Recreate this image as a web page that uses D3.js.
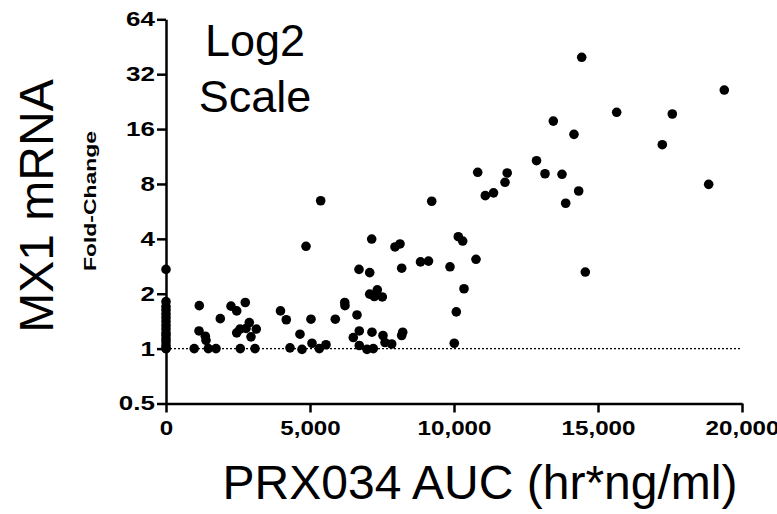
<!DOCTYPE html>
<html>
<head>
<meta charset="utf-8">
<script src="https://cdn.jsdelivr.net/npm/d3@7"></script>
<style>
  html, body { margin: 0; padding: 0; background: #fff; }
  svg { display: block; font-family: "Liberation Sans", Arial, sans-serif; }
</style>
</head>
<body>
<svg id="chart" width="777" height="514"></svg>
<script>
// PRX034 AUC (hr*ng/ml)
const aucValues = [
  0,0,0,0,0,0,0,0,0,0,0,0,0,0,0,0,
  980,1156,1146,1365,1389,1469,1736,1885,2257,2455,2753,2892,2569,2455,2778,3135,2951,2580,3090,
  3975,4177,4305,4652,4722,4861,5034,5069,5323,5555,5371,5878,6205,6215,6632,6503,6711,6701,6711,6979,7198,
  7152,7073,7142,7073,7337,7233,7510,7534,7604,7837,7951,8125,8184,8219,8184,
  8837,9115,9226,9861,10010,10080,10149,10302,10347,10764,10823,11087,11372,11771,11847,
  12865,13160,13448,13750,13878,14166,14329,14434,14559,15649,17233,17580,18843,19385
];
// MX1 mRNA fold-change
const foldChange = [
  1.0,1.0,1.04,1.09,1.13,1.18,1.22,1.28,1.34,1.41,1.48,1.55,1.63,1.7,1.81,2.72,
  1.0,1.72,1.25,1.17,1.11,1.0,1.0,1.46,1.71,1.61,1.79,1.39,1.28,1.22,1.29,1.28,1.16,1.0,1.0,
  1.61,1.44,1.01,1.2,0.99,3.64,1.45,1.07,1.0,1.05,6.47,1.45,1.79,1.72,1.53,1.15,1.25,2.72,1.04,0.99,1.0,
  1.23,2.61,3.99,1.99,2.10,1.93,1.92,1.18,1.08,1.06,3.61,3.75,2.76,1.23,1.18,
  2.99,3.02,6.43,2.81,1.07,1.59,4.11,3.89,2.13,3.09,9.27,6.9,7.15,8.17,9.19,
  10.73,9.1,17.7,9.04,6.27,14.97,7.32,39.6,2.63,19.77,13.13,19.35,7.96,26.2
];
const xTicks = [0, 5000, 10000, 15000, 20000];
const yTicks = [0.5, 1, 2, 4, 8, 16, 32, 64];
const xTitle = "PRX034 AUC (hr*ng/ml)";
const yTitle = "MX1 mRNA";
const ySubTitle = "Fold-Change";
const noteLines = ["Log2", "Scale"];

const svg = d3.select("#chart");
const x = d3.scaleLinear().domain([0, 20000]).range([166, 742]);
const y = d3.scaleLog().base(2).domain([0.5, 64]).range([403.5, 19.3]);

// reference dotted line at 1
svg.append("line")
  .attr("x1", x(0)).attr("x2", x(20000))
  .attr("y1", y(1)).attr("y2", y(1))
  .attr("stroke", "#000").attr("stroke-width", 1.3)
  .attr("stroke-dasharray", "2,2");

// x axis
const xAxis = svg.append("g")
  .attr("transform", `translate(0,${y(0.5)})`)
  .call(d3.axisBottom(x).tickValues(xTicks).tickSize(9).tickSizeOuter(0).tickPadding(8)
        .tickFormat(d3.format(",")));
xAxis.select(".domain").attr("stroke-width", 2.5);
xAxis.selectAll(".tick line").attr("stroke-width", 2.5);
xAxis.selectAll(".tick text")
  .attr("font-family", "'Liberation Sans', Arial, sans-serif")
  .attr("font-size", 21).attr("font-weight", "bold").attr("fill", "#000")
  .attr("transform", "scale(1.15,1)");

// y axis
const yAxis = svg.append("g")
  .attr("transform", `translate(${x(0)},0)`)
  .call(d3.axisLeft(y).tickValues(yTicks).tickSize(9).tickSizeOuter(0).tickPadding(2)
        .tickFormat(d => String(d)));
yAxis.select(".domain").attr("stroke-width", 2.5);
yAxis.selectAll(".tick line").attr("stroke-width", 2.5);
yAxis.selectAll(".tick text")
  .attr("font-family", "'Liberation Sans', Arial, sans-serif")
  .attr("font-size", 20).attr("font-weight", "bold").attr("fill", "#000")
  .attr("x", -11 / 1.3)
  .attr("transform", "scale(1.3,1)");

// points
svg.append("g").selectAll("circle")
  .data(aucValues.map((v, i) => [v, foldChange[i]]))
  .join("circle")
  .attr("cx", d => x(d[0]))
  .attr("cy", d => y(d[1]))
  .attr("r", 4.8)
  .attr("fill", "#000");

// titles
svg.append("text")
  .attr("x", 480).attr("y", 499)
  .attr("text-anchor", "middle")
  .attr("font-size", 48).attr("fill", "#000")
  .text(xTitle);

svg.append("text")
  .attr("transform", "translate(53,206) rotate(-90)")
  .attr("text-anchor", "middle")
  .attr("font-size", 48).attr("fill", "#000")
  .text(yTitle);

svg.append("text")
  .attr("transform", "translate(96,201) rotate(-90) scale(1.35,1)")
  .attr("text-anchor", "middle")
  .attr("font-size", 17).attr("font-weight", "bold").attr("fill", "#000")
  .text(ySubTitle);

svg.append("g").selectAll("text")
  .data(noteLines)
  .join("text")
  .attr("x", 255)
  .attr("y", (d, i) => 56 + i * 56)
  .attr("text-anchor", "middle")
  .attr("font-size", 45).attr("fill", "#000")
  .text(d => d);
</script>
</body>
</html>
